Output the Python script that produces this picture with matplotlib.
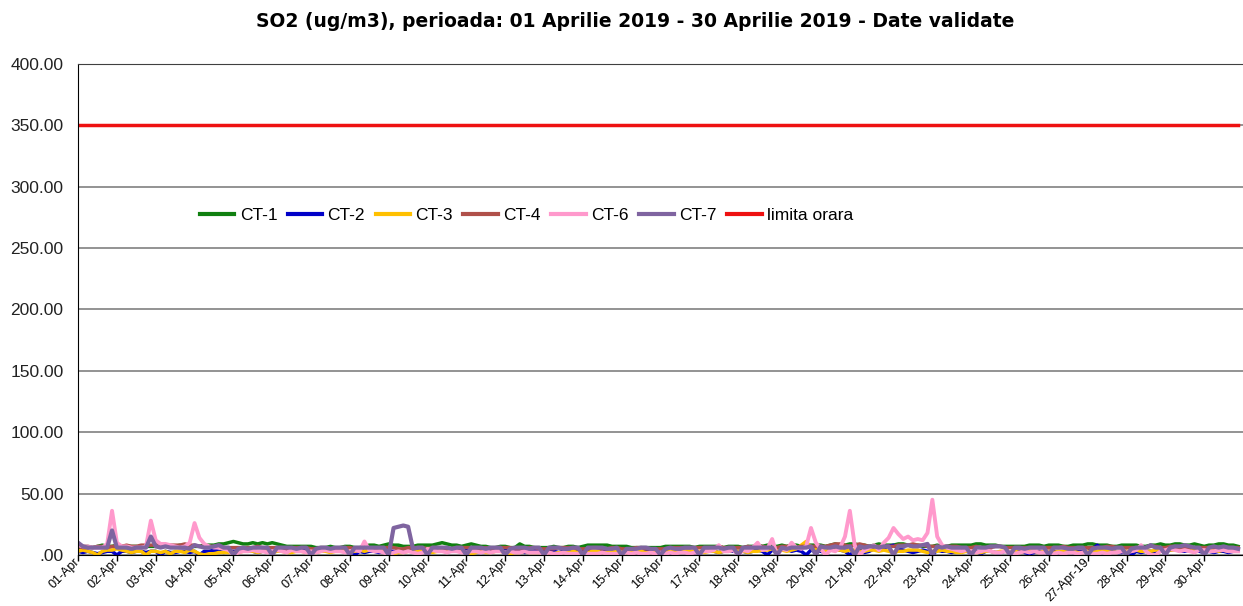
import numpy as np
import pandas as pd
import matplotlib
matplotlib.use("Agg")
import matplotlib.pyplot as plt
import matplotlib.dates as mdates

# 3-hourly values (8 per day, 01-30 Apr 2019)
ct1 = [
    6, 7, 7, 6, 7, 8, 7, 7,  8, 7, 7, 7, 7, 6, 7, 7,  7, 8, 7, 7, 7, 8, 7, 7,
    7, 7, 8, 8, 8, 9, 9, 10,  11, 10, 9, 9, 10, 9, 10, 9,  10, 9, 8, 7, 7, 7, 7, 7,
    7, 6, 6, 6, 7, 6, 6, 7,  7, 6, 6, 7, 8, 8, 7, 8,  9, 8, 8, 7, 7, 7, 8, 8,
    8, 8, 9, 10, 9, 8, 8, 7,  8, 9, 8, 7, 7, 6, 6, 7,  7, 6, 6, 9, 7, 7, 6, 6,
    6, 6, 7, 6, 6, 7, 7, 6,  7, 8, 8, 8, 8, 8, 7, 7,  7, 7, 6, 6, 6, 6, 6, 6,
    6, 7, 7, 7, 7, 7, 7, 6,  7, 7, 7, 7, 7, 6, 7, 7,  7, 6, 7, 7, 8, 7, 8, 7,
    7, 8, 7, 8, 8, 7, 8, 8,  8, 8, 7, 8, 9, 8, 8, 9,  9, 8, 8, 7, 8, 9, 8, 8,
    8, 9, 9, 8, 7, 8, 7, 7,  7, 8, 7, 7, 8, 8, 8, 8,  8, 9, 9, 8, 8, 8, 7, 7,
    7, 7, 7, 7, 8, 8, 8, 7,  8, 8, 8, 7, 7, 8, 8, 8,  9, 9, 8, 8, 8, 7, 7, 8,
    8, 8, 8, 7, 7, 8, 8, 9,  8, 8, 9, 9, 8, 8, 9, 8,  7, 8, 8, 9, 9, 8, 8, 7,
]
ct2 = [
    3, 2, 3, 2, 1, 2, 3, 3,  0, 3, 3, 2, 3, 3, 2, 3,  3, 0, 3, 2, 2, 3, 3, 2,
    3, 0, 3, 3, 4, 3, 2, 3,  3, 3, 4, 3, 3, 2, 3, 3,  3, 4, 3, 4, 4, 3, 3, 4,
    3, 4, 4, 3, 3, 4, 3, 3,  2, 0, 3, 2, 3, 3, 2, 3,  3, 3, 2, 3, 3, 4, 4, 3,
    4, 3, 4, 5, 4, 3, 3, 4,  4, 3, 4, 5, 4, 4, 3, 4,  4, 3, 3, 4, 2, 3, 4, 3,
    3, 4, 3, 2, 3, 3, 3, 3,  3, 3, 2, 3, 3, 3, 2, 2,  2, 3, 3, 2, 2, 3, 3, 2,
    3, 3, 2, 2, 3, 3, 3, 2,  2, 3, 3, 3, 2, 3, 3, 3,  3, 3, 2, 3, 4, 3, 0, 4,
    3, 4, 5, 3, 4, 3, 0, 4,  4, 3, 2, 4, 5, 4, 3, 0,  3, 4, 2, 3, 5, 4, 6, 7,
    8, 5, 4, 3, 2, 3, 4, 3,  0, 4, 3, 3, 2, 3, 3, 3,  2, 3, 1, 3, 3, 2, 2, 3,
    2, 3, 3, 2, 1, 2, 3, 2,  3, 3, 2, 3, 3, 2, 3, 3,  3, 5, 8, 4, 3, 3, 2, 2,
    3, 0, 3, 2, 3, 3, 2, 3,  4, 4, 5, 3, 3, 4, 3, 3,  2, 3, 2, 3, 3, 2, 3, 3,
]
ct3 = [
    3, 4, 3, 2, 0, 3, 4, 4,  5, 4, 3, 2, 3, 3, 0, 3,  3, 2, 3, 1, 3, 3, 2, 4,
    3, 1, 0, 1, 1, 2, 2, 2,  2, 2, 3, 3, 3, 2, 3, 3,  2, 3, 3, 2, 2, 3, 3, 2,
    3, 2, 3, 3, 2, 3, 3, 4,  3, 3, 4, 3, 4, 4, 3, 3,  2, 1, 2, 2, 3, 3, 3, 4,
    3, 2, 3, 4, 3, 4, 3, 3,  2, 1, 2, 3, 2, 2, 3, 3,  2, 1, 2, 2, 3, 2, 2, 2,
    2, 2, 1, 2, 2, 2, 3, 2,  2, 2, 3, 3, 2, 2, 3, 3,  2, 2, 2, 2, 3, 2, 2, 2,
    2, 2, 3, 3, 2, 3, 3, 3,  3, 2, 3, 3, 2, 3, 3, 4,  3, 3, 2, 3, 3, 4, 4, 5,
    4, 4, 3, 4, 5, 8, 11, 6,  5, 4, 3, 4, 4, 4, 3, 4,  4, 3, 3, 4, 4, 3, 4, 3,
    2, 3, 3, 4, 4, 4, 3, 2,  3, 3, 4, 3, 3, 2, 2, 3,  3, 2, 2, 3, 3, 2, 3, 3,
    2, 3, 2, 3, 3, 3, 2, 3,  3, 2, 3, 3, 3, 3, 2, 2,  3, 3, 3, 4, 3, 3, 2, 3,
    3, 3, 4, 3, 3, 3, 4, 4,  3, 4, 4, 5, 6, 3, 4, 4,  3, 3, 4, 3, 4, 3, 3, 3,
]
ct4 = [
    7, 6, 6, 6, 7, 7, 6, 7,  7, 7, 8, 7, 7, 8, 8, 8,  8, 9, 8, 8, 8, 8, 9, 8,
    8, 7, 7, 7, 7, 7, 6, 6,  6, 6, 6, 6, 6, 7, 6, 6,  6, 6, 6, 5, 6, 6, 6, 6,
    5, 5, 6, 6, 5, 5, 6, 6,  6, 5, 5, 6, 6, 5, 6, 6,  6, 6, 5, 5, 6, 6, 6, 6,
    5, 6, 6, 6, 5, 5, 6, 6,  6, 6, 5, 5, 6, 5, 6, 6,  6, 6, 5, 5, 5, 6, 6, 5,
    5, 5, 5, 6, 6, 6, 6, 5,  5, 5, 6, 6, 5, 5, 6, 6,  5, 5, 5, 6, 6, 5, 5, 5,
    5, 5, 6, 6, 6, 6, 6, 6,  6, 6, 6, 6, 7, 6, 6, 6,  6, 6, 7, 6, 7, 7, 6, 6,
    6, 7, 7, 7, 6, 7, 7, 7,  7, 7, 7, 8, 9, 9, 8, 7,  8, 9, 8, 7, 7, 7, 7, 7,
    7, 8, 8, 8, 9, 8, 8, 7,  7, 7, 7, 7, 7, 7, 6, 6,  6, 7, 6, 6, 6, 7, 7, 6,
    6, 6, 6, 6, 6, 6, 6, 6,  6, 6, 6, 7, 6, 6, 6, 6,  6, 6, 6, 6, 7, 7, 6, 6,
    6, 6, 6, 6, 6, 7, 7, 6,  6, 7, 7, 6, 6, 6, 6, 6,  6, 6, 6, 6, 5, 6, 6, 6,
]
ct6 = [
    8, 7, 7, 6, 6, 6, 9, 36,  10, 7, 7, 6, 6, 6, 7, 28,  12, 9, 9, 8, 7, 6, 7, 10,
    26, 14, 9, 7, 6, 6, 5, 4,  0, 2, 3, 3, 4, 3, 3, 2,  3, 4, 3, 2, 4, 3, 3, 2,
    3, 2, 3, 4, 3, 3, 3, 2,  3, 4, 3, 11, 4, 3, 3, 2,  0, 2, 3, 2, 3, 2, 1, 2,
    5, 4, 3, 3, 2, 3, 3, 2,  2, 3, 3, 2, 3, 2, 3, 3,  2, 3, 2, 2, 3, 2, 2, 2,
    1, 2, 1, 1, 2, 1, 1, 1,  1, 1, 1, 1, 2, 1, 1, 1,  1, 2, 1, 2, 1, 1, 2, 1,
    2, 1, 2, 1, 2, 2, 1, 2,  2, 3, 3, 4, 8, 3, 3, 4,  0, 4, 3, 6, 10, 4, 5, 13,
    0, 5, 4, 10, 6, 5, 7, 22,  10, 5, 0, 4, 3, 6, 15, 36,  8, 0, 4, 6, 8, 4, 10, 14,
    22, 17, 13, 15, 12, 13, 12, 18,  45, 15, 8, 6, 5, 4, 3, 4,  3, 2, 3, 4, 3, 2, 2, 3,
    2, 1, 2, 3, 2, 3, 2, 2,  2, 1, 2, 1, 2, 2, 1, 2,  2, 1, 1, 2, 1, 2, 2, 3,
    2, 3, 4, 8, 3, 0, 0, 3,  4, 5, 4, 3, 4, 3, 2, 4,  4, 3, 3, 4, 4, 3, 3, 3,
]
ct7 = [
    10, 7, 6, 6, 6, 6, 6, 20,  6, 6, 6, 5, 6, 6, 6, 15,  7, 6, 7, 6, 6, 6, 6, 5,
    8, 7, 6, 6, 7, 8, 6, 6,  0, 5, 6, 5, 6, 6, 6, 6,  0, 6, 6, 6, 6, 5, 6, 6,
    0, 5, 6, 6, 5, 6, 6, 6,  0, 6, 6, 6, 6, 6, 6, 6,  0, 22, 23, 24, 23, 5, 6, 6,
    0, 6, 6, 6, 6, 5, 6, 6,  0, 6, 6, 6, 5, 6, 6, 6,  0, 5, 6, 6, 6, 5, 6, 6,
    0, 6, 6, 6, 5, 5, 6, 6,  0, 6, 6, 6, 6, 5, 5, 6,  0, 5, 5, 5, 6, 6, 5, 5,
    0, 5, 6, 5, 5, 6, 6, 6,  0, 6, 6, 6, 6, 5, 6, 6,  0, 6, 6, 6, 6, 6, 6, 6,
    0, 6, 5, 6, 6, 6, 6, 7,  0, 7, 6, 6, 7, 6, 6, 7,  0, 7, 6, 7, 7, 6, 7, 7,
    0, 7, 7, 8, 7, 7, 8, 9,  0, 7, 6, 7, 6, 6, 6, 6,  0, 6, 6, 6, 7, 7, 7, 6,
    0, 6, 6, 5, 6, 6, 6, 6,  0, 6, 6, 6, 5, 5, 6, 6,  0, 5, 6, 6, 6, 5, 6, 6,
    0, 5, 6, 6, 6, 8, 6, 6,  0, 6, 7, 7, 8, 7, 6, 6,  0, 6, 7, 6, 7, 6, 6, 5,
]
limita = 350.0

day_labels = ["%02d-Apr" % d for d in range(1, 31)]
day_labels[26] = "27-Apr-19"

names = ["CT-1", "CT-2", "CT-3", "CT-4", "CT-6", "CT-7"]
series = [ct1, ct2, ct3, ct4, ct6, ct7]
colors = ["#108010", "#0000c8", "#ffc000", "#b0504a", "#ff99cc", "#7f64a0"]
widths = [2.5, 2.5, 2.5, 2.5, 2.8, 3.0]


def main():
    plt.rcParams['font.family'] = ['Liberation Sans', 'DejaVu Sans']
    times = pd.date_range("2019-04-01", periods=len(ct1), freq="3h")
    days = pd.date_range("2019-04-01", periods=30, freq="D")

    fig = plt.figure(figsize=(12.43, 6.06), dpi=100)
    ax = fig.add_axes([0.0628, 0.0842, 0.9372, 0.8102])

    for name, vals, c, lw in zip(names, series, colors, widths):
        ax.plot(times, vals, color=c, lw=lw, label=name, solid_joinstyle="round")
    ax.plot(times, [limita] * len(times), color="#ee1111", lw=2.5, label="limita orara")

    ax.set_xlim(pd.Timestamp("2019-04-01"), pd.Timestamp("2019-05-01"))
    ax.set_ylim(0, 400)
    ax.set_yticks(np.arange(0, 401, 50))
    ax.set_yticklabels([".00"] + ["%.2f" % v for v in np.arange(50, 401, 50)],
                       fontsize=12.5, color="#222222")
    ax.yaxis.grid(True, color="#808080", lw=1.2)
    ax.set_axisbelow(True)
    ax.tick_params(axis="y", length=0, pad=10.5)

    ax.set_xticks(mdates.date2num(days))
    ax.set_xticklabels(day_labels, rotation=45, ha="right", va="center",
                       rotation_mode="anchor", fontsize=9)
    ax.tick_params(axis="x", length=4, width=1, direction="out", pad=0)

    ax.spines["right"].set_visible(False)
    ax.spines["top"].set_color("#404040")
    ax.spines["left"].set_color("black")
    ax.spines["bottom"].set_color("black")
    ax.spines["bottom"].set_zorder(5)

    fig.suptitle("SO2 (ug/m3), perioada: 01 Aprilie 2019 - 30 Aprilie 2019 - Date validate",
                 fontsize=13.5, fontweight="bold", family="DejaVu Sans", x=0.511, y=0.98)

    leg = ax.legend(loc="center left", bbox_to_anchor=(0.091, 0.692), ncol=7, frameon=False,
                    fontsize=12.5, handlelength=2.0, handletextpad=0.3, columnspacing=0.6)
    for line in leg.get_lines():
        line.set_linewidth(3)

    plt.savefig("out.png", dpi=100)


if __name__ == "__main__":
    main()
